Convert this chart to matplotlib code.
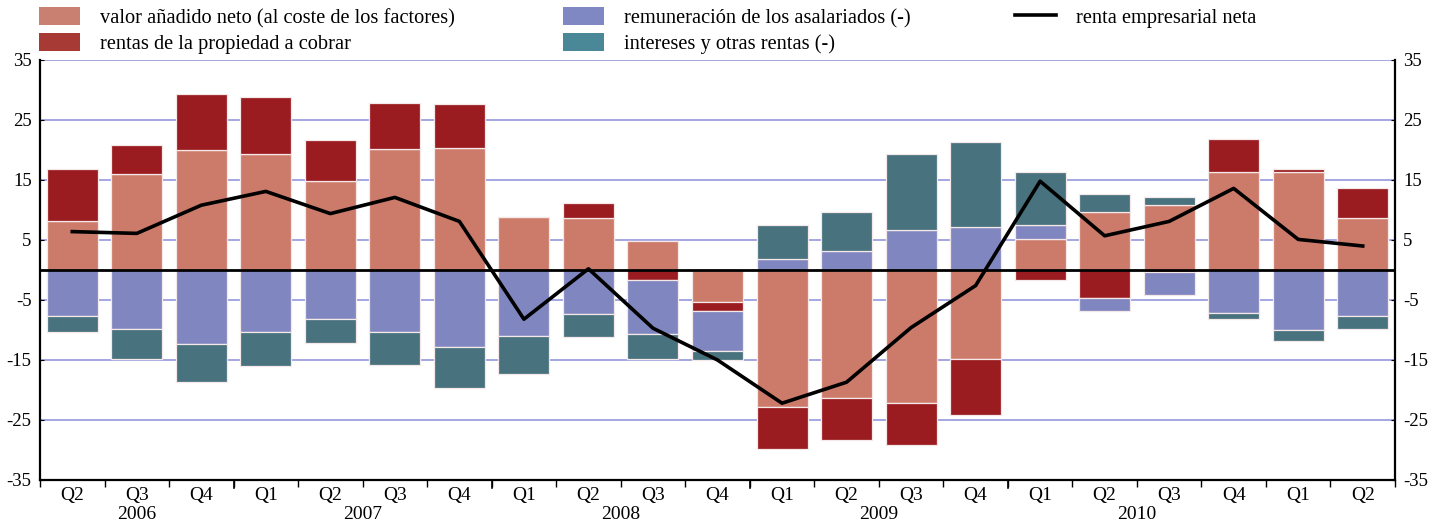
import numpy as np
import matplotlib
matplotlib.use("Agg")
import matplotlib.pyplot as plt
from matplotlib.patches import Patch
from matplotlib.lines import Line2D

plt.rcParams['font.family'] = ['Liberation Serif', 'DejaVu Serif']

quarters = ['Q2', 'Q3', 'Q4',
            'Q1', 'Q2', 'Q3', 'Q4',
            'Q1', 'Q2', 'Q3', 'Q4',
            'Q1', 'Q2', 'Q3', 'Q4',
            'Q1', 'Q2', 'Q3', 'Q4',
            'Q1', 'Q2']
years = ['2006', '2007', '2008', '2009', '2010']
year_len = [3, 4, 4, 4, 4]

valor = [8.2, 16.0, 20.0, 19.3, 14.8, 20.2, 20.3,
         8.8, 8.6, 4.9, -5.4, -22.8, -21.4, -22.1, -14.9,
         5.1, 9.7, 10.8, 16.3, 16.3, 8.6]
rentas = [8.6, 4.8, 9.4, 9.6, 6.8, 7.6, 7.3,
          0.0, 2.5, -1.7, -1.5, -7.0, -7.0, -7.1, -9.2,
          -1.7, -4.7, -0.4, 5.5, 0.6, 5.1]
remun = [-7.6, -9.8, -12.4, -10.3, -8.1, -10.3, -12.8,
         -11.0, -7.4, -8.9, -6.6, 1.9, 3.2, 6.6, 7.1,
         2.4, -2.2, -3.8, -7.2, -10.0, -7.6]
intereses = [-2.8, -5.1, -6.3, -5.7, -4.0, -5.6, -6.8,
             -6.3, -3.7, -4.3, -1.5, 5.6, 6.5, 12.8, 14.2,
             8.8, 3.0, 1.4, -1.0, -1.8, -2.2]
renta_neta = [6.4, 6.1, 10.8, 13.1, 9.4, 12.1, 8.1,
              -8.2, 0.2, -9.7, -15.0, -22.2, -18.7, -9.6, -2.6,
              14.8, 5.7, 8.1, 13.6, 5.1, 4.0]

labels = ['valor añadido neto (al coste de los factores)',
          'rentas de la propiedad a cobrar',
          'remuneración de los asalariados (-)',
          'intereses y otras rentas (-)',
          'renta empresarial neta']
bar_colors = ['#CC7B6A', '#9B1C20', '#8086BF', '#48727E']
legend_colors = ['#C98070', '#A83A35', '#8088C4', '#4A8898']

fig = plt.figure(figsize=(14.46, 5.29), dpi=100)
ax = fig.add_axes([40 / 1446, 49 / 529, 1355 / 1446, 420 / 529])

x = np.arange(len(quarters))
pos_base = np.zeros(len(x))
neg_base = np.zeros(len(x))
for series, col in zip([valor, rentas, remun, intereses], bar_colors):
    v = np.array(series)
    bottom = np.where(v >= 0, pos_base, neg_base)
    ax.bar(x, v, width=0.79, bottom=bottom, color=col,
           edgecolor='#F4E8E8', linewidth=0.9, zorder=2)
    pos_base += np.where(v >= 0, v, 0)
    neg_base += np.where(v < 0, v, 0)

ax.plot(x, renta_neta, color='black', lw=2.6, zorder=4)
ax.axhline(0, color='black', lw=2, zorder=3)

ax.set_xlim(-0.5, len(x) - 0.5)
ax.set_ylim(-35, 35)
yt = np.arange(-35, 36, 10)
ax.set_yticks(yt)
ax.set_yticklabels([str(v) for v in yt])
for v in yt[1:]:
    ax.axhline(v, color='#8C90D8', lw=1.1, zorder=1)

ax.tick_params(axis='y', which='both', labelsize=13.5, length=3,
               direction='in', left=True, right=True,
               labelleft=True, labelright=True, pad=6)
ax.set_xticks(x)
ax.set_xticklabels(quarters, fontsize=14)
ax.tick_params(axis='x', length=0, pad=5)
# boundary ticks
bounds = np.arange(len(x) + 1) - 0.5
year_starts = np.cumsum([0] + year_len)[:-1] - 0.5
ax.set_xticks(bounds, minor=True)
ax.tick_params(axis='x', which='minor', length=5, width=1, direction='out')
for b in year_starts[1:]:
    ax.plot([b, b], [-35, -36.3], color='black', lw=1.2, clip_on=False)

start = 0
for yr, n in zip(years, year_len):
    ax.text(start + (n - 1) / 2, -40.7, yr, ha='center', va='center',
            fontsize=14)
    start += n

ax.spines['top'].set_visible(False)
for s in ['left', 'right', 'bottom']:
    ax.spines[s].set_linewidth(1.6)
    ax.spines[s].set_color('black')

handles = [Patch(facecolor=c) for c in legend_colors] + \
    [Line2D([0], [0], color='black', lw=2.6)]
leg_kw = dict(loc='upper left', frameon=False, fontsize=14.7,
              handlelength=2.0, handleheight=1.0, handletextpad=1.0,
              labelspacing=0.22, borderpad=0, borderaxespad=0)
fig.legend(handles[:2], labels[:2],
           bbox_to_anchor=(39 / 1446, 1 - 7 / 529), **leg_kw)
fig.legend(handles[2:4], labels[2:4],
           bbox_to_anchor=(563 / 1446, 1 - 7 / 529), **leg_kw)
fig.legend(handles[4:], labels[4:],
           bbox_to_anchor=(1015 / 1446, 1 - 7 / 529), **leg_kw)

fig.savefig('out.png', dpi=100)
